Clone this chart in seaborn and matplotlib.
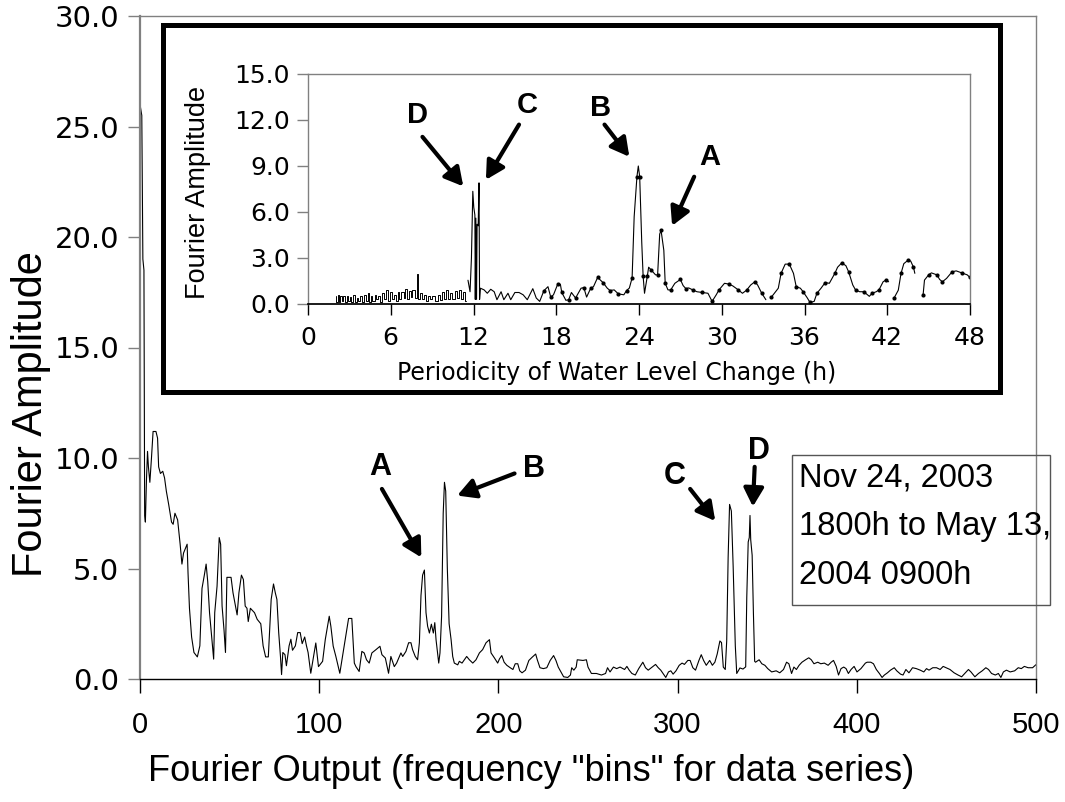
import numpy as np
import pandas as pd
import matplotlib
matplotlib.use("Agg")
import matplotlib.pyplot as plt
import seaborn as sns
from matplotlib.patches import Rectangle

# ---- main spectrum: Fourier bin -> amplitude in pieces ----
low_bin = [0.0, 1.0, 1.6, 2.2, 2.6, 3.0, 3.6, 4.2, 4.7, 5.5,
           6.4, 7.3, 8.9, 9.8, 10.4, 11.4, 12.7, 13.7, 14.7, 16.0,
           17.6, 18.5, 19.5, 21.0, 22.4, 23.4, 24.3, 26.3, 26.8, 27.6,
           28.8, 30.1, 32.0, 33.4, 34.6, 35.9, 36.9, 37.8, 38.8, 39.8,
           41.1, 41.7, 43.0, 44.2, 45.0, 45.8, 46.9, 47.7, 48.5, 50.8,
           51.9, 53.3, 54.2, 55.2, 56.6, 57.7, 58.7, 59.7, 60.4, 61.6,
           63.9, 65.4, 67.4, 68.7, 70.1, 71.6, 73.2, 74.5, 75.5, 76.4,
           77.4, 78.4, 79.0, 79.7, 80.9, 81.7, 83.2, 84.2, 85.1, 86.7,
           88.0, 89.4, 90.5, 91.9, 92.9, 93.8]
low_amp = [26.0, 25.5, 19.0, 18.5, 7.4, 7.1, 9.0, 10.3, 9.6, 8.9,
           10.0, 11.2, 11.2, 10.9, 9.6, 9.3, 9.4, 9.1, 8.5, 7.9,
           7.1, 7.0, 7.5, 7.2, 6.1, 5.2, 5.7, 6.1, 4.8, 3.2,
           1.9, 1.2, 1.0, 1.5, 4.1, 4.7, 5.2, 4.4, 3.0, 2.1,
           0.9, 3.0, 4.2, 6.4, 6.1, 3.3, 2.2, 1.2, 4.6, 4.6,
           3.9, 3.3, 2.9, 3.9, 4.7, 4.5, 3.3, 3.2, 2.6, 3.2,
           3.0, 2.7, 2.5, 1.5, 1.0, 1.0, 3.6, 4.3, 3.9, 3.6,
           2.1, 1.0, 0.2, 1.2, 1.1, 0.6, 1.5, 1.8, 1.3, 1.5,
           2.1, 2.1, 1.6, 1.9, 1.5, 1.2]

mid_bin = [95.3, 98.1, 99.6, 101.9, 103.4, 105.6, 106.5, 107.8, 109.3, 111.5,
           113.0, 114.5, 116.4, 118.2, 119.6, 120.5, 122.3, 123.8, 125.1, 126.4,
           127.9, 129.4, 131.7, 133.9, 135.0, 136.9, 138.7, 140.0, 141.9, 143.2,
           145.6, 146.6, 148.4, 149.9, 151.2, 152.1, 153.6, 154.9, 155.9, 156.8,
           157.7, 158.7, 159.6, 160.5, 161.5, 162.6, 163.7, 164.5, 165.2, 166.7,
           167.4, 168.3, 169.2, 169.9, 170.6, 171.5, 172.5, 173.6, 174.5, 175.4,
           177.3, 178.2, 179.7, 181.0, 182.3, 183.8, 185.7, 187.5, 189.4, 191.2,
           193.1, 195.0, 195.9, 197.8, 199.6]
mid_amp = [0.26, 1.63, 0.56, 0.80, 1.79, 2.84, 2.39, 1.49, 1.02, 0.26,
           1.02, 1.78, 2.74, 2.74, 0.72, 0.56, 0.34, 1.25, 1.18, 0.87,
           0.72, 1.18, 1.33, 1.48, 1.10, 0.95, 0.26, 1.02, 0.56, 0.72,
           1.18, 1.02, 1.25, 1.64, 1.64, 1.33, 1.02, 0.87, 1.64, 3.78,
           4.70, 4.93, 3.00, 2.39, 2.08, 2.48, 2.08, 2.55, 1.78, 0.72,
           1.18, 2.84, 7.5, 8.9, 8.5, 5.0, 2.5, 1.78, 1.02, 0.72,
           0.64, 0.80, 0.72, 0.87, 1.02, 0.87, 0.72, 0.87, 1.18, 1.33,
           1.64, 1.78, 1.18, 0.95, 0.72]

upper_bin = [200.6, 201.9, 203.2, 204.7, 206.6, 208.1, 209.4, 210.8, 211.9, 213.2,
             215.1, 217.0, 218.9, 220.8, 221.7, 223.2, 225.1, 227.0, 228.9, 230.8,
             232.1, 233.4, 234.9, 236.4, 238.7, 240.2, 240.9, 242.1, 243.4, 244.0,
             247.2, 249.1, 250.0, 251.9, 254.7, 257.5, 259.8, 260.9, 262.3, 264.2,
             266.0, 267.9, 270.4, 271.7, 273.0, 274.5, 276.4, 278.3, 280.6, 282.1,
             283.6, 285.8, 287.7, 289.2, 290.6, 291.9, 293.4, 294.9, 296.2, 297.5,
             299.1, 300.9, 302.5, 303.8, 305.7, 307.0, 308.5, 310.0, 311.9, 313.2,
             314.5, 316.0, 317.9, 319.4, 320.8, 322.1, 323.6, 324.5, 325.5, 326.6, 327.4]
upper_amp = [0.91, 1.06, 0.76, 0.62, 0.51, 0.43, 0.69, 0.69, 0.37, 0.28,
             0.40, 0.84, 0.99, 1.13, 0.87, 0.51, 0.47, 0.51, 0.84, 1.06,
             0.84, 0.54, 0.32, 0.10, 0.07, 0.18, 0.51, 0.40, 0.54, 0.87,
             0.84, 0.87, 0.54, 0.25, 0.25, 0.18, 0.25, 0.51, 0.32, 0.54,
             0.47, 0.54, 0.43, 0.57, 0.40, 0.25, 0.18, 0.47, 0.76, 0.51,
             0.40, 0.54, 0.66, 0.51, 0.40, 0.25, 0.07, 0.32, 0.37, 0.22,
             0.37, 0.62, 0.72, 0.66, 0.84, 0.84, 0.51, 0.40, 0.84, 1.10,
             0.84, 0.62, 0.84, 0.62, 0.76, 1.13, 1.72, 1.65, 0.54, 0.43, 1.72]

cd_bin = [328.2, 329.0, 330.0, 331.0, 332.2, 333.0, 334.8, 336.5, 338.0, 338.6,
          339.4, 340.0, 340.4, 340.8, 341.6, 342.3, 343.0]
cd_amp = [5.5, 7.9, 7.6, 5.1, 1.5, 0.25, 0.5, 0.45, 0.55, 3.7,
          6.2, 6.4, 7.4, 6.3, 5.6, 3.0, 0.8]

high_bin = [343.5, 345.5, 347.0, 348.7, 350.3, 352.5, 355.0, 357.0, 359.1, 360.8,
            362.1, 363.6, 364.9, 366.3, 367.8, 369.4, 371.4, 373.2, 374.6, 376.1,
            378.2, 379.9, 381.9, 384.0, 385.7, 387.0, 388.5, 389.8, 391.2, 392.7,
            394.0, 395.3, 396.8, 398.5, 400.1, 402.3, 404.8, 405.8, 407.8, 409.3,
            410.9, 412.6, 414.1, 415.4, 417.1, 418.8, 420.9, 422.3, 424.4, 425.8,
            427.4, 429.1, 431.1, 433.2, 435.4, 437.4, 438.9, 440.3, 442.4, 444.5,
            446.5, 448.2, 449.8, 452.0, 454.3, 456.5, 458.5, 460.6, 462.3, 463.7,
            465.9, 467.9, 470.0, 472.0, 473.5, 475.2, 477.3, 479.0, 480.4, 481.8,
            483.5, 485.6, 488.1, 490.1, 491.8, 493.5, 495.6, 498.1, 500.0]
high_amp = [0.76, 0.87, 0.69, 0.62, 0.47, 0.32, 0.37, 0.28, 0.43, 0.76,
            0.69, 0.25, 0.54, 0.43, 0.62, 0.76, 0.87, 0.96, 0.87, 0.69,
            0.76, 0.69, 0.72, 0.62, 0.76, 0.84, 0.57, 0.18, 0.47, 0.54,
            0.47, 0.25, 0.43, 0.57, 0.32, 0.47, 0.72, 0.76, 0.76, 0.69,
            0.43, 0.25, 0.07, 0.18, 0.28, 0.40, 0.51, 0.37, 0.22, 0.18,
            0.43, 0.28, 0.51, 0.47, 0.40, 0.32, 0.47, 0.40, 0.51, 0.51,
            0.43, 0.57, 0.51, 0.43, 0.28, 0.18, 0.10, 0.28, 0.43, 0.32,
            0.10, 0.25, 0.37, 0.51, 0.43, 0.25, 0.18, 0.25, 0.07, 0.32,
            0.40, 0.32, 0.37, 0.51, 0.47, 0.57, 0.51, 0.51, 0.65]

# ---- inset: periodicity (h) -> amplitude ----
# short periods, drawn as dense bars
bar_period = [2.0, 2.1, 2.2, 2.3, 2.4, 2.5, 2.6, 2.75, 2.85, 3.0,
              3.1, 3.2, 3.35, 3.45, 3.6, 3.7, 3.85, 4.0, 4.1, 4.25,
              4.4, 4.5, 4.6, 4.75, 4.9, 5.0, 5.15, 5.3, 5.45, 5.6,
              5.75, 5.9, 6.0, 6.15, 6.3, 6.45, 6.55, 6.7, 6.85, 7.0,
              7.1, 7.25, 7.4, 7.5, 7.65, 7.8, 7.95, 8.05, 8.2, 8.35,
              8.5, 8.65, 8.8, 8.95, 9.1, 9.3, 9.5, 9.65, 9.8, 9.95,
              10.1, 10.25, 10.4, 10.55, 10.7, 10.85, 11.0, 11.15, 11.3, 11.45]
bar_amp = [0.55, 0.15, 0.6, 0.1, 0.55, 0.2, 0.5, 0.1, 0.55, 0.2,
           0.45, 0.15, 0.6, 0.1, 0.4, 0.2, 0.5, 0.1, 0.6, 0.2,
           0.7, 0.15, 0.5, 0.2, 0.6, 0.3, 0.55, 0.15, 0.7, 0.3,
           0.9, 0.2, 0.8, 0.35, 0.6, 0.2, 0.75, 0.3, 0.8, 0.4,
           0.95, 0.3, 0.85, 0.45, 0.9, 0.4, 1.95, 0.35, 0.7, 0.3,
           0.6, 0.2, 0.55, 0.3, 0.5, 0.2, 0.6, 0.25, 0.75, 0.3,
           0.9, 0.35, 0.7, 0.3, 0.85, 0.4, 0.9, 0.3, 0.8, 0.2]

nan = np.nan
per_period = [11.6, 11.75, 11.85, 11.95, 12.02, 12.1, 12.13, 12.17, 12.22, 12.26,
              12.34, 12.4, 12.44, 12.5, 12.77, 13.0, 13.25, 13.5, 13.7, 14.0,
              14.2, 14.5, 14.7, 15.0, 15.3, 15.6, 15.9, 16.3, 16.55, 16.8,
              17.1, 17.4, 17.6, 17.8, 18.1, 18.3, 18.4, 18.7, 18.9, 19.1,
              19.4, 19.8, 20.0, 20.2, 20.5, 20.7, 21.0, 21.2, 21.4, 21.7,
              21.9, 22.2, 22.5, 22.9, 23.1, 23.3, 23.5, 23.65, 23.85, 23.95,
              24.05, 24.2, 24.3, 24.4, 24.6, 24.7, 24.9, 25.2, 25.35, 25.5,
              25.6, 25.8, 25.9, 26.1, 26.3, 26.6, 27.0, 27.2, 27.4, 27.6,
              27.9, 28.2, 28.6, 29.0, 29.3, 29.6, 29.8, 30.2, 30.5, 30.8,
              31.2, 31.5, 31.8, 32.1, 32.4, 32.6, 32.9, 33.2, 33.4, 33.6,
              34.1, 34.3, 34.6, 34.9, 35.2, 35.4, 35.7, 35.9, 36.2, 36.4,
              36.7, 36.9, 37.2, 37.5, 37.8, 38.2, 38.4, 38.7, 39.0, 39.2,
              39.5, 39.7, 40.0, 40.3, 40.7, 40.9, 41.2, 41.4, 41.7, 41.9,
              42.1, 42.3, 42.5, 42.8, 43.0, 43.2, 43.5, 43.7, 43.9, 44.0,
              44.3, 44.6, 44.7, 45.0, 45.2, 45.6, 45.8, 46.0, 46.3, 46.7,
              47.0, 47.4, 47.8, 48.0]
per_amp = [1.55, 0.8, 3.0, 7.35, 6.3, 5.8, 0.3, 5.6, 0.3, 5.2,
           5.1, 7.9, 0.3, 1.03, 0.92, 0.7, 0.96, 0.8, 0.28, 0.8,
           0.28, 0.7, 0.28, 0.75, 0.75, 0.6, 0.28, 1.0, 0.39, 0.17,
           0.86, 1.13, 0.45, 0.6, 1.28, 1.28, 0.75, 0.24, 0.28, 0.75,
           0.39, 1.03, 1.07, 0.45, 1.03, 1.13, 1.73, 1.56, 1.39, 1.03,
           0.88, 0.92, 0.66, 0.6, 0.88, 1.04, 1.7, 5.7, 8.3, 9.0,
           8.3, 4.0, 1.8, 0.7, 1.8, 2.4, 2.2, 1.9, 1.9, 4.56,
           4.8, 3.5, 1.35, 0.92, 0.92, 1.35, 1.6, 1.2, 1.0, 1.05,
           0.92, 0.8, 0.75, 0.7, 0.17, 0.6, 0.92, 1.35, 1.3, 1.18,
           0.92, 0.7, 0.9, 1.24, 1.45, 1.24, 0.7, 0.28, nan, 0.45,
           1.03, 2.0, 2.6, 2.6, 2.0, 1.13, 1.03, 0.8, 0.4, 0.1,
           0.17, 0.7, 1.03, 1.4, 1.35, 2.0, 2.4, 2.68, 2.5, 2.1,
           1.24, 0.92, 0.8, 0.8, 0.5, 0.7, 0.8, 0.92, 1.45, 1.56,
           1.45, nan, 0.4, 0.9, 2.0, 2.63, 2.85, 2.8, 2.4, 2.0,
           nan, 0.6, 1.56, 1.9, 2.03, 1.9, 1.6, 1.45, 1.67, 2.1,
           2.16, 2.03, 1.9, 1.73]

peak_names = ["A", "B", "C", "D"]
date_note = "Nov 24, 2003\n1800h to May 13,\n2004 0900h"

main_df = pd.DataFrame({
    "bin": low_bin + mid_bin + upper_bin + cd_bin + high_bin,
    "amp": low_amp + mid_amp + upper_amp + cd_amp + high_amp,
})
bar_df = pd.DataFrame({"period": bar_period, "amp": bar_amp})
per_df = pd.DataFrame({"period": per_period, "amp": per_amp})
per_df["seg"] = per_df["amp"].isna().cumsum()
per_df = per_df.dropna()

sns.set_theme(style="ticks")
plt.rcParams["font.family"] = ["Liberation Sans", "DejaVu Sans"]
for key in ["text.color", "axes.labelcolor", "xtick.labelcolor", "ytick.labelcolor"]:
    plt.rcParams[key] = "black"

W, H = 1065, 802
fig = plt.figure(figsize=(W / 100, H / 100), dpi=100)


def fig_rect(x0, y0, x1, y1):
    # pixel box (top-left origin) -> figure fraction rect
    return [x0 / W, 1 - y1 / H, (x1 - x0) / W, (y1 - y0) / H]


grey = "#808080"
arrow_kw = dict(arrowstyle="-|>,head_length=0.55,head_width=0.3",
                color="black", lw=3, shrinkA=0, shrinkB=0, mutation_scale=20)

# ---------------- main chart ----------------
ax = fig.add_axes(fig_rect(140, 16, 1036, 679))
sns.lineplot(data=main_df, x="bin", y="amp", ax=ax, color="black",
             lw=0.8, estimator=None, sort=False)
ax.set_xlim(0, 500)
ax.set_ylim(0, 30)
ax.set_xticks(range(0, 501, 100))
ax.set_xticklabels([str(v) for v in range(0, 501, 100)],
                   fontsize=21, family="Liberation Sans")
ax.set_yticks(range(0, 31, 5))
ax.set_yticklabels([f"{v:.1f}" for v in range(0, 31, 5)],
                   fontsize=21, family="DejaVu Sans")
ax.tick_params(axis="x", direction="out", length=10, width=1,
               color="black", pad=13)
ax.tick_params(axis="y", direction="out", length=9, width=1,
               color=grey, pad=6)
for side in ["left", "top", "right"]:
    ax.spines[side].set_color(grey)
    ax.spines[side].set_linewidth(1)
ax.spines["left"].set_linewidth(1.6)
ax.spines["bottom"].set_color("black")
ax.spines["bottom"].set_linewidth(1)
ax.set_xlabel('Fourier Output (frequency "bins" for data series)',
              fontsize=26, va="center", ha="center")
ax.xaxis.set_label_coords(0.436, -0.139)
ax.set_ylabel("Fourier Amplitude", fontsize=30, va="center", ha="center")
ax.yaxis.set_label_coords(-0.122, 0.40)

main_label_xy = [(134, 9.6), (219.6, 9.5), (298.5, 9.2), (345.4, 10.3)]
main_tail = [(135, 8.6), (209, 9.3), (307, 8.6), (343, 9.6)]
main_tip = [(157, 5.5), (177, 8.3), (321, 7.15), (342, 7.8)]
for name, lxy, t0, t1 in zip(peak_names, main_label_xy, main_tail, main_tip):
    ax.text(*lxy, name, fontsize=22, fontweight="bold", ha="center", va="center")
    ax.annotate("", xy=t1, xytext=t0, arrowprops=arrow_kw)

# date note box
fig.add_artist(Rectangle((792 / W, 1 - 605 / H), (1050 - 792) / W, (605 - 455) / H,
                         transform=fig.transFigure, fill=False,
                         ec="#555555", lw=1))
fig.text(799 / W, 1 - 463 / H, date_note, fontsize=23.5, ha="left", va="top",
         linespacing=1.72)

# ---------------- inset ----------------
fig.add_artist(Rectangle((163 / W, 1 - 392 / H), (1000 - 163) / W, (392 - 25) / H,
                         transform=fig.transFigure, fc="white", ec="black",
                         lw=3.6, zorder=0.5))
ins = fig.add_axes(fig_rect(308, 74, 970, 304))
ins.set_zorder(1)
sns.lineplot(data=bar_df, x="period", y="amp", ax=ins, color="black",
             lw=0.7, estimator=None, drawstyle="steps-mid")
sns.lineplot(data=per_df, x="period", y="amp", units="seg", ax=ins,
             color="black", lw=0.8, estimator=None)
dots = per_df[per_df["period"] > 17].iloc[::2]
sns.scatterplot(data=dots, x="period", y="amp", ax=ins, color="black",
                s=9, linewidth=0)
ins.set_xlim(0, 48)
ins.set_ylim(0, 15)
ins.set_xticks(range(0, 49, 6))
ins.set_xticklabels([str(v) for v in range(0, 49, 6)],
                    fontsize=18, family="DejaVu Sans")
ins.set_yticks(range(0, 16, 3))
ins.set_yticklabels([f"{v:.1f}" for v in range(0, 16, 3)],
                    fontsize=18, family="DejaVu Sans")
ins.tick_params(axis="x", direction="out", length=8, width=1, color="black", pad=8)
ins.tick_params(axis="y", direction="out", length=8, width=1, color=grey, pad=5)
for side in ["left", "top", "right"]:
    ins.spines[side].set_color(grey)
    ins.spines[side].set_linewidth(1)
ins.spines["bottom"].set_color("black")
ins.set_xlabel("Periodicity of Water Level Change (h)", fontsize=17,
               family="DejaVu Sans", va="center", ha="center")
ins.xaxis.set_label_coords(0.466, -0.30)
ins.set_ylabel("Fourier Amplitude", fontsize=19.5, va="center", ha="center")
ins.yaxis.set_label_coords(-0.166, 0.487)

ins_label_xy = [(29.1, 9.6), (21.2, 12.8), (15.9, 13.0), (7.96, 12.35)]
ins_tail = [(28.0, 8.3), (21.5, 11.7), (15.3, 11.7), (8.3, 10.9)]
ins_tip = [(26.4, 5.1), (23.3, 9.6), (12.9, 8.1), (11.26, 7.67)]
for name, lxy, t0, t1 in zip(peak_names, ins_label_xy, ins_tail, ins_tip):
    ins.text(*lxy, name, fontsize=21, fontweight="bold", ha="center", va="center")
    ins.annotate("", xy=t1, xytext=t0, arrowprops=arrow_kw)

fig.savefig("out.png", dpi=100)
